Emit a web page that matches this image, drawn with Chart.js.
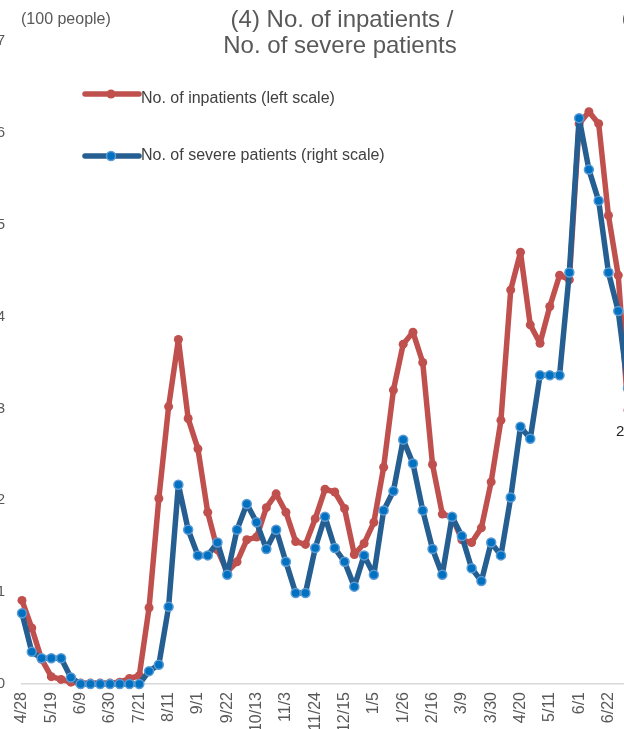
<!DOCTYPE html>
<html>
<head>
<meta charset="utf-8">
<script src="https://cdn.jsdelivr.net/npm/chart.js@4.4.1/dist/chart.umd.min.js"></script>
<style>
  html, body { margin: 0; padding: 0; background: #fff; overflow: hidden; }
  #wrap { position: relative; width: 624px; height: 729px; overflow: hidden; }
  #chart { position: absolute; left: -40px; top: 0; }
</style>
</head>
<body>
<div id="wrap"><canvas id="chart" width="708" height="744"></canvas></div>
<script>
const weeks = [
  '4/28', '5/5', '5/12', '5/19', '5/26', '6/2', '6/9', '6/16', '6/23', '6/30',
  '7/7', '7/14', '7/21', '7/28', '8/4', '8/11', '8/18', '8/25', '9/1', '9/8',
  '9/15', '9/22', '9/29', '10/6', '10/13', '10/20', '10/27', '11/3', '11/10', '11/17',
  '11/24', '12/1', '12/8', '12/15', '12/22', '12/29', '1/5', '1/12', '1/19', '1/26',
  '2/2', '2/9', '2/16', '2/23', '3/2', '3/9', '3/16', '3/23', '3/30', '4/6',
  '4/13', '4/20', '4/27', '5/4', '5/11', '5/18', '5/25', '6/1', '6/8', '6/15',
  '6/22', '6/29', '7/6'
];

// hundreds of people (left scale)
const inpatients = [
  0.91, 0.61, 0.27, 0.08, 0.05, 0.02, 0.01, 0.01, 0.01, 0.01,
  0.02, 0.06, 0.09, 0.83, 2.02, 3.02, 3.75, 2.89, 2.56, 1.87,
  1.46, 1.22, 1.33, 1.57, 1.60, 1.92, 2.07, 1.87, 1.55, 1.52,
  1.80, 2.12, 2.09, 1.91, 1.41, 1.53, 1.76, 2.36, 3.20, 3.70,
  3.83, 3.50, 2.39, 1.85, 1.82, 1.57, 1.54, 1.70, 2.20, 2.87,
  4.29, 4.70, 3.91, 3.71, 4.11, 4.45, 4.40, 6.10, 6.23, 6.10,
  5.10, 4.45, 2.98
];

// right scale
const severe = [
  0.77, 0.35, 0.28, 0.28, 0.28, 0.07, 0, 0, 0, 0,
  0, 0, 0, 0.14, 0.21, 0.84, 2.17, 1.68, 1.40, 1.40,
  1.54, 1.19, 1.68, 1.96, 1.76, 1.47, 1.68, 1.33, 0.99, 0.99,
  1.48, 1.82, 1.48, 1.33, 1.06, 1.40, 1.19, 1.89, 2.10, 2.66,
  2.40, 1.89, 1.47, 1.19, 1.82, 1.61, 1.26, 1.12, 1.54, 1.40,
  2.03, 2.80, 2.67, 3.36, 3.36, 3.36, 4.48, 6.16, 5.60, 5.26,
  4.48, 4.06, 3.22
];

const titleLines = ['(4) No. of inpatients /', 'No. of severe patients'];
const legendLabels = ['No. of inpatients (left scale)', 'No. of severe patients (right scale)'];
const lastLabel = '2.98';

const RED = '#C0504D';
const BLUE = '#255E91';
const BLUE_DOT = '#0070C0';
const BLUE_RING = '#5B9BD5';
const GREY = '#595959';
const FONT = 'Arial, "Liberation Sans", sans-serif';

const overlay = {
  id: 'overlay',
  afterDraw(chart) {
    const { ctx, chartArea } = chart;
    const left = chartArea.left;
    ctx.save();

    // title
    ctx.fillStyle = GREY;
    ctx.textAlign = 'center';
    ctx.textBaseline = 'middle';
    ctx.font = '24px ' + FONT;
    ctx.fillText(titleLines[0], left + 320, 20);
    ctx.fillText(titleLines[1], left + 318, 46);

    // units
    ctx.font = '16px ' + FONT;
    ctx.textAlign = 'left';
    ctx.fillText('(100 people)', left - 1, 20);
    ctx.fillText('(10 people)', left + 600, 20);

    // legend
    const rows = [
      { y: 94, ty: 99, color: RED, dot: RED, ring: null, text: legendLabels[0] },
      { y: 156, ty: 156, color: BLUE, dot: BLUE_DOT, ring: BLUE_RING, text: legendLabels[1] }
    ];
    rows.forEach(r => {
      ctx.strokeStyle = r.color;
      ctx.lineWidth = 5.5;
      ctx.lineCap = 'round';
      ctx.beginPath();
      ctx.moveTo(left + 63, r.y);
      ctx.lineTo(left + 117, r.y);
      ctx.stroke();
      ctx.beginPath();
      ctx.arc(left + 89, r.y, 4.5, 0, Math.PI * 2);
      ctx.fillStyle = r.dot;
      ctx.fill();
      if (r.ring) {
        ctx.lineWidth = 1.5;
        ctx.strokeStyle = r.ring;
        ctx.stroke();
      }
      ctx.fillStyle = '#404040';
      ctx.font = '16px ' + FONT;
      ctx.textAlign = 'left';
      ctx.textBaseline = 'middle';
      ctx.fillText(r.text, left + 119, r.ty);
    });

    // data label under the last inpatient point
    const pts = chart.getDatasetMeta(0).data;
    const last = pts[pts.length - 1];
    ctx.fillStyle = '#262626';
    ctx.font = '15px ' + FONT;
    ctx.textAlign = 'left';
    ctx.fillText(lastLabel, last.x - 12, last.y + 22);

    ctx.restore();
  }
};

new Chart(document.getElementById('chart'), {
  type: 'line',
  data: {
    labels: weeks,
    datasets: [
      {
        label: legendLabels[0],
        data: inpatients,
        yAxisID: 'y',
        order: 2,
        borderColor: RED,
        backgroundColor: RED,
        borderWidth: 5.5,
        tension: 0,
        borderJoinStyle: 'round',
        borderCapStyle: 'round',
        pointRadius: 4.5,
        pointBorderWidth: 0,
        pointBackgroundColor: RED,
        clip: 12
      },
      {
        label: legendLabels[1],
        data: severe,
        yAxisID: 'y2',
        order: 1,
        borderColor: BLUE,
        backgroundColor: BLUE_DOT,
        borderWidth: 5.5,
        tension: 0,
        borderJoinStyle: 'round',
        borderCapStyle: 'round',
        pointRadius: 4.5,
        pointBorderWidth: 1.5,
        pointBackgroundColor: BLUE_DOT,
        pointBorderColor: BLUE_RING,
        clip: 12
      }
    ]
  },
  options: {
    responsive: false,
    devicePixelRatio: 1,
    animation: false,
    layout: { padding: { top: 41, left: 0, right: 0, bottom: 0 } },
    plugins: {
      legend: { display: false },
      title: { display: false },
      tooltip: { enabled: false }
    },
    scales: {
      x: {
        offset: false,
        grid: { display: false, drawTicks: false },
        border: { display: true, color: '#D9D9D9', width: 1.5 },
        ticks: {
          autoSkip: false,
          minRotation: 90,
          maxRotation: 90,
          padding: 8,
          color: GREY,
          font: { family: FONT, size: 16 },
          callback: (v, i) => (i % 3 === 0 ? weeks[i] : '')
        },
        afterFit: (axis) => { axis.height = 60; }
      },
      y: {
        position: 'left',
        min: 0,
        max: 7,
        grid: { display: false, drawTicks: false },
        border: { display: false },
        ticks: {
          stepSize: 1,
          padding: 17,
          color: GREY,
          font: { family: FONT, size: 15 }
        },
        afterFit: (axis) => { axis.width = 62; }
      },
      y2: {
        position: 'right',
        min: 0,
        max: 7,
        grid: { display: false, drawTicks: false },
        border: { display: false },
        ticks: {
          stepSize: 1,
          padding: 8,
          color: GREY,
          font: { family: FONT, size: 15 }
        },
        afterFit: (axis) => { axis.width = 40; }
      }
    }
  },
  plugins: [overlay]
});
</script>
</body>
</html>
